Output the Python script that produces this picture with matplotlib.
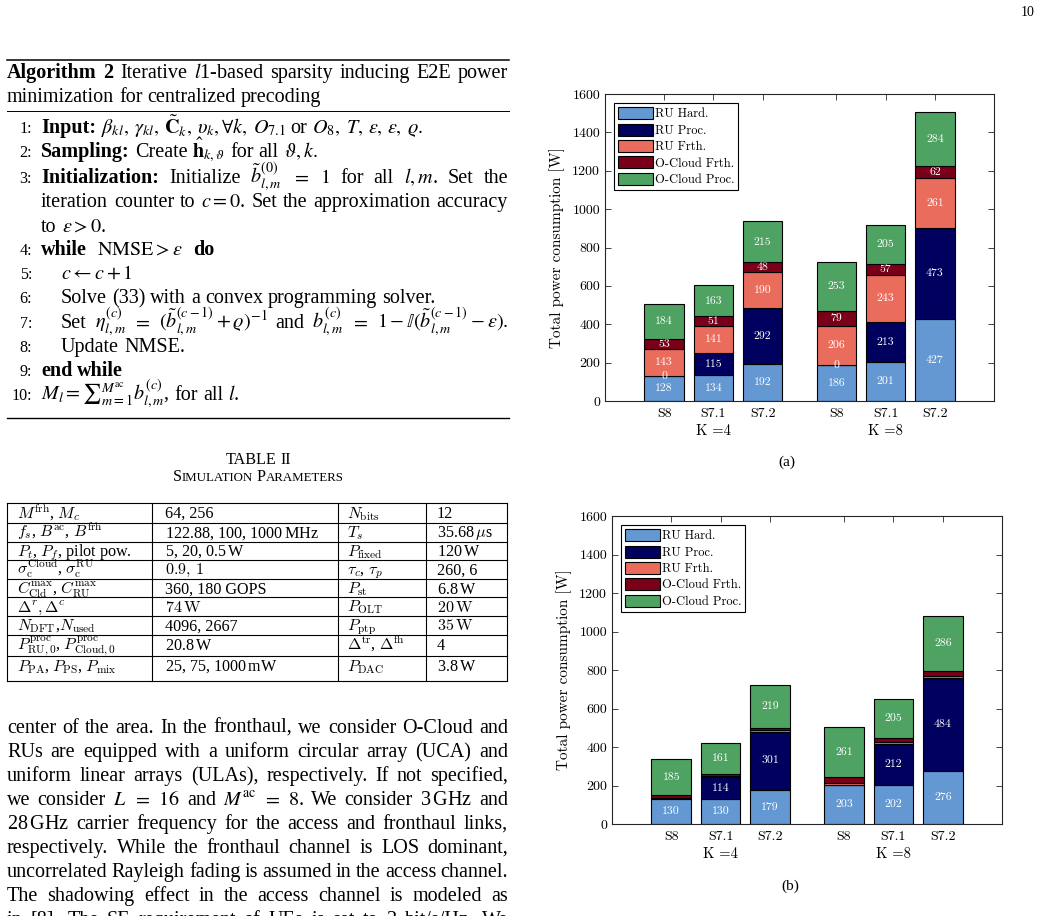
import matplotlib
matplotlib.use('Agg')
import matplotlib.pyplot as plt
from matplotlib.lines import Line2D
from matplotlib.transforms import blended_transform_factory
import numpy as np

plt.rcParams['axes.unicode_minus'] = False

# ---------------- chart data ----------------
categories = ['S8', 'S7.1', 'S7.2', 'S8', 'S7.1', 'S7.2']
positions = [1, 2, 3, 4.5, 5.5, 6.5]
groups = ['K =4', 'K =8']
series = ['RU Hard.', 'RU Proc.', 'RU Frth.', 'O-Cloud Frth.', 'O-Cloud Proc.']
colors = ['#6398D2', '#00005E', '#EA6C5C', '#7A0019', '#4EA262']
yticks = [0, 200, 400, 600, 800, 1000, 1200, 1400, 1600]

a_ru_hard = [128, 134, 192, 186, 201, 427]
a_ru_proc = [0, 115, 292, 0, 213, 473]
a_ru_frth = [143, 141, 190, 206, 243, 261]
a_oc_frth = [53, 51, 48, 79, 57, 62]
a_oc_proc = [184, 163, 215, 253, 205, 284]

b_ru_hard = [130, 130, 179, 203, 202, 276]
b_ru_proc = [4, 114, 301, 2, 212, 484]
b_ru_frth = [3, 5, 6, 8, 14, 10]
b_oc_frth = [15, 10, 15, 31, 17, 24]
b_oc_proc = [185, 161, 219, 261, 205, 286]

# ---------------- table data ----------------
table_rows = [
    [r'$M^{\mathrm{frh}}$, $M_c$', '64, 256', r'$N_{\mathrm{bits}}$', '12'],
    [r'$f_s$, $B^{\mathrm{ac}}$, $B^{\mathrm{frh}}$', r'122.88, 100, 1000$\,$MHz', r'$T_s$', r'35.68$\,\mu$s'],
    [r'$P_t$, $P_f$, pilot pow.', r'5, 20, 0.5$\,$W', r'$P_{\mathrm{fixed}}$', r'120$\,$W'],
    [r'$\sigma_{\mathrm{c}}^{\mathrm{Cloud}}$, $\sigma_{\mathrm{c}}^{\mathrm{RU}}$', r'$0.9,\,1$', r'$\tau_c$, $\tau_p$', '260, 6'],
    [r'$C_{\mathrm{Cld}}^{\mathrm{max}}$, $C_{\mathrm{RU}}^{\mathrm{max}}$', '360, 180 GOPS', r'$P_{\mathrm{st}}$', r'6.8$\,$W'],
    [r'$\Delta^r, \Delta^c$', r'$74\,\mathrm{W}$', r'$P_{\mathrm{OLT}}$', r'$20\,\mathrm{W}$'],
    [r'$N_{\mathrm{DFT}}$,$N_{\mathrm{used}}$', '4096, 2667', r'$P_{\mathrm{ptp}}$', r'$35\,\mathrm{W}$'],
    [r'$P_{\mathrm{RU},0}^{\mathrm{proc}}$, $P_{\mathrm{Cloud},0}^{\mathrm{proc}}$', r'20.8$\,$W', r'$\Delta^{\mathrm{tr}}$, $\Delta^{\mathrm{fh}}$', '4'],
    [r'$P_{\mathrm{PA}}$, $P_{\mathrm{PS}}$, $P_{\mathrm{mix}}$', r'25, 75, 1000$\,$mW', r'$P_{\mathrm{DAC}}$', r'3.8$\,$W'],
]

W, H = 1041, 916
SERIF = 'Liberation Serif'
CM = 'cmr10'
B = {'weight': 'bold'}

fig = plt.figure(figsize=(W / 100, H / 100), dpi=100)
fig.patch.set_facecolor('white')
r = fig.canvas.get_renderer()


def px(x, y):
    return (x / W, 1 - y / H)


def twidth(s, size, **kw):
    t = fig.text(0, 0, s, fontsize=size, **kw)
    w = t.get_window_extent(r).width
    t.remove()
    return w


FS = 10 * 376 / twidth('Solve (33) with a convex programming solver.', 10, family=SERIF)
TFS = 10 * 72.3 / twidth('4096, 2667', 10, family=SERIF)


def place(words, y, x0, x1=None, size=None, ha='left', gapmul=1.0, math='stix', family=SERIF):
    size = size or FS
    items = []
    for w in words:
        segs = [(w, {})] if isinstance(w, str) else w
        row = []
        for s, kw in segs:
            kw = dict(kw)
            sz = kw.pop('size', size)
            t = fig.text(0, 0, s, fontsize=sz, family=family, math_fontfamily=math,
                         va='baseline', **kw)
            row.append([t, t.get_window_extent(r).width])
        items.append(row)
    widths = [sum(w for _, w in row) for row in items]
    sp = (twidth('a a', size, family=family) - twidth('aa', size, family=family)) * gapmul
    n = len(items)
    if x1 is not None and n > 1:
        gap = (x1 - x0 - sum(widths)) / (n - 1)
    else:
        gap = sp
    total = sum(widths) + gap * (n - 1)
    x = x0 - total / 2 if ha == 'center' else x0
    for row in items:
        for t, w in row:
            t.set_position(px(x, y))
            x += w
        x += gap


def hline(x0, x1, y, lw):
    fig.add_artist(Line2D([x0 / W, x1 / W], [1 - y / H, 1 - y / H], color='black', lw=lw))


def vline(x, y0, y1, lw):
    fig.add_artist(Line2D([x / W, x / W], [1 - y0 / H, 1 - y1 / H], color='black', lw=lw))


# page number
fig.text(*px(1035, 16), '10', fontsize=10, family=SERIF, ha='right', va='baseline')

# ---------------- Algorithm ----------------
XL, XR = 7, 508
hline(7, 509, 60, 1.1)
place([[('Algorithm', B)], [('2', B)], 'Iterative', '$l$1-based', 'sparsity', 'inducing', 'E2E', 'power'],
      78, XL, XR)
place(['minimization', 'for', 'centralized', 'precoding'], 102, XL)
hline(7, 509, 111, 0.7)

XA, XI = 41, 61
nums = [(133, '1:'), (157, '2:'), (183, '3:'), (255, '4:'), (279, '5:'), (303, '6:'),
        (328, '7:'), (352, '8:'), (376, '9:'), (400, '10:')]
for yy, s in nums:
    fig.text(*px(32, yy), s, fontsize=FS * 0.8, family=SERIF, ha='right', va='baseline')

place([[('Input:', B)], r'$\beta_{kl},$', r'$\gamma_{kl},$', r'$\tilde{\mathbf{C}}_k,$', r'$\upsilon_k, \forall k,$',
       r'$O_{7.1}$', 'or', r'$O_8,$', r'$T,$', r'$\epsilon,$', r'$\varepsilon,$', r'$\varrho.$'], 133, XA)
place([[('Sampling:', B)], 'Create', r'$\hat{\mathbf{h}}_{k,\vartheta}$', 'for', 'all', r'$\vartheta, k.$'], 157, XA)
place([[('Initialization:', B)], 'Initialize', r'$\tilde{b}_{l,m}^{(0)}$', '$=$', '$1$', 'for', 'all',
       '$l, m$.', 'Set', 'the'], 183, XA, XR)
place(['iteration', 'counter', 'to', '$c = 0$.', 'Set', 'the', 'approximation', 'accuracy'], 207, XA, XR)
place(['to', r'$\epsilon > 0$.'], 232, XA)
place([[('while', B)], r'$\mathrm{NMSE} > \epsilon$', [('do', B)]], 255, XA, gapmul=2.0)
place([r'$c \leftarrow c + 1$'], 279, XI)
place(['Solve', '(33)', 'with', 'a', 'convex', 'programming', 'solver.'], 303, XI)
place(['Set', r'$\eta_{l,m}^{(c)}$', '$=$', r'$(\tilde{b}_{l,m}^{(c-1)} + \varrho)^{-1}$', 'and',
       r'$b_{l,m}^{(c)}$', '$=$', r'$1 - \mathbb{I}(\tilde{b}_{l,m}^{(c-1)} - \varepsilon).$'], 328, XI, XR)
place(['Update', 'NMSE.'], 352, XI)
place([[('end', B)], [('while', B)]], 376, XA)
place([r'$M_l = {\sum}_{m=1}^{M^{\mathrm{ac}}} b_{l,m}^{(c)}$,', 'for', 'all', '$l$.'], 400, XA)
hline(7, 509, 418, 1.0)

# ---------------- Table ----------------
place(['TABLE', 'II'], 464, 258, size=TFS, ha='center')
sc = TFS * 0.8
place([[('S', {}), ('IMULATION', {'size': sc})], [('P', {}), ('ARAMETERS', {'size': sc})]],
      481, 258, size=TFS, ha='center')

row_lines = [503.3, 522.7, 541.5, 559.8, 579.0, 597.0, 616.0, 635.0, 656.0, 681.0]
col_lines = [6.5, 152, 338, 426, 507]
col_text = [17, 165, 347, 437]
for yy in row_lines:
    hline(col_lines[0], col_lines[-1], yy, 0.8)
for xx in col_lines:
    vline(xx, row_lines[0], row_lines[-1], 0.8)
for i, row in enumerate(table_rows):
    yb = row_lines[i] + 14.5 if i < len(table_rows) - 1 else 671
    for xx, s in zip(col_text, row):
        fig.text(*px(xx, yb), s, fontsize=TFS, family=SERIF, math_fontfamily='cm', va='baseline')

# ---------------- Body text ----------------
body = [
    ['center', 'of', 'the', 'area.', 'In', 'the', 'fronthaul,', 'we', 'consider', 'O-Cloud', 'and'],
    ['RUs', 'are', 'equipped', 'with', 'a', 'uniform', 'circular', 'array', '(UCA)', 'and'],
    ['uniform', 'linear', 'arrays', '(ULAs),', 'respectively.', 'If', 'not', 'specified,'],
    ['we', 'consider', '$L$', '$=$', '$16$', 'and', r'$M^{\mathrm{ac}}$', '$=$', '$8$.', 'We', 'consider',
     r'3$\,$GHz', 'and'],
    [r'28$\,$GHz', 'carrier', 'frequency', 'for', 'the', 'access', 'and', 'fronthaul', 'links,'],
    ['respectively.', 'While', 'the', 'fronthaul', 'channel', 'is', 'LOS', 'dominant,'],
    ['uncorrelated', 'Rayleigh', 'fading', 'is', 'assumed', 'in', 'the', 'access', 'channel.'],
    ['The', 'shadowing', 'effect', 'in', 'the', 'access', 'channel', 'is', 'modeled', 'as'],
    ['in', '[8].', 'The', 'SE', 'requirement', 'of', 'UEs', 'is', 'set', 'to', '2', 'bit/s/Hz.', 'We'],
]
for i, words in enumerate(body):
    place(words, 733 + 24 * i, XL, XR)


# ---------------- Charts ----------------
def draw_chart(rect, data, label_min, cap, cap_xy):
    ax = fig.add_axes(rect)
    pos = np.array(positions, float)
    bottom = np.zeros(len(pos))
    for vals, name, col in zip(data, series, colors):
        vals = np.array(vals, float)
        ax.bar(pos, vals, width=0.8, bottom=bottom, color=col, edgecolor='black',
               linewidth=0.8, label=name, zorder=2)
        for xi, b0, v in zip(pos, bottom, vals):
            if v >= label_min:
                ax.text(xi, b0 + v / 2, f'{int(v)}', color='white', ha='center', va='center',
                        fontsize=8.5, family=CM, zorder=3)
        bottom += vals
    ax.set_xlim(-0.2, 7.7)
    ax.set_ylim(0, 1600)
    ax.set_xticks(pos)
    ax.set_xticklabels(categories, family=CM, fontsize=10)
    ax.set_yticks(yticks)
    ax.set_yticklabels([str(v) for v in yticks], family=CM, fontsize=10)
    ax.tick_params(direction='in', top=True, right=True, length=4, width=0.6, color='#262626')
    ax.tick_params(axis='x', pad=5)
    ax.tick_params(axis='y', pad=3.5)
    for sp in ax.spines.values():
        sp.set_linewidth(0.8)
        sp.set_color('#262626')
    ax.set_ylabel('Total power consumption [W]', family=CM, fontsize=11, labelpad=5)
    tr = blended_transform_factory(ax.transData, ax.transAxes)
    for g, name in enumerate(groups):
        xc = np.mean(pos[3 * g:3 * g + 3])
        ax.text(xc, -0.097, name, transform=tr, ha='center', va='center', family=CM, fontsize=10.5)
    leg = ax.legend(loc='upper left', prop={'family': CM, 'size': 9}, frameon=True, fancybox=False,
                    edgecolor='black', framealpha=1, borderaxespad=0.75, handlelength=2.8,
                    handleheight=1.1, labelspacing=0.25, handletextpad=0.15, borderpad=0.3)
    leg.get_frame().set_linewidth(0.8)
    fig.text(*px(*cap_xy), cap, family=SERIF, fontsize=11, ha='center', va='center')
    return ax


draw_chart([605 / W, 1 - 401 / H, 389 / W, 307 / H],
           [a_ru_hard, a_ru_proc, a_ru_frth, a_oc_frth, a_oc_proc], 0, '(a)', (787, 462))
draw_chart([612 / W, 1 - 824 / H, 390 / W, 308 / H],
           [b_ru_hard, b_ru_proc, b_ru_frth, b_oc_frth, b_oc_proc], 100, '(b)', (790, 886))

fig.savefig('out.png', dpi=100, facecolor='white')
